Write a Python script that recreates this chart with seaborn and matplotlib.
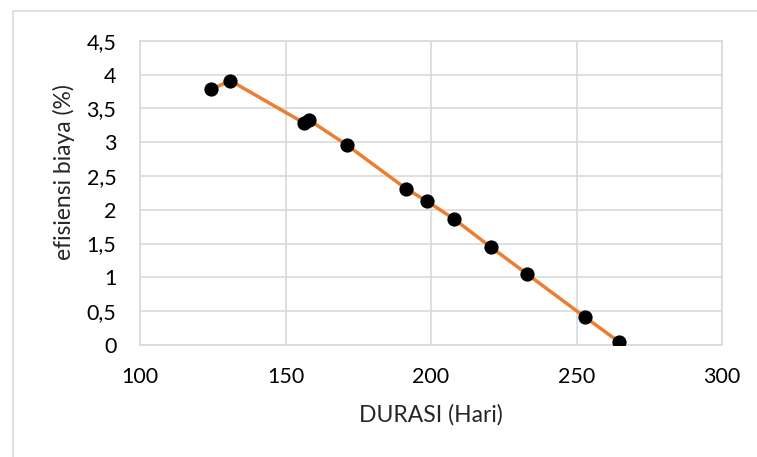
import pandas as pd
import matplotlib.pyplot as plt
import seaborn as sns
from matplotlib.patches import Rectangle
from matplotlib.ticker import FuncFormatter

# ************* DATA ************************************************
durasi = [124.5, 131, 156.5, 158, 171, 191.5, 198.5, 208, 220.5, 233, 253, 264.5]
efisiensi = [3.78, 3.91, 3.28, 3.33, 2.96, 2.31, 2.13, 1.86, 1.45, 1.05, 0.41, 0.05]
x_ticks = [100, 150, 200, 250, 300]
y_ticks = [0, 0.5, 1, 1.5, 2, 2.5, 3, 3.5, 4, 4.5]

df = pd.DataFrame({"durasi": durasi, "efisiensi": efisiensi})

# ************* PLOT *****************
sns.set_style("white")
plt.rcParams['font.family'] = ['Lato', 'DejaVu Sans']

fig = plt.figure(figsize=(7.57, 4.57), dpi=100)
ax = fig.add_axes([140 / 757, 1 - 345 / 457, 582 / 757, 304.3 / 457])

# light frame round the chart area (only top and left edges visible)
fig.patches.append(Rectangle((13 / 757, -0.2), 1.2, 1.2 - 11 / 457,
                             transform=fig.transFigure, fill=False,
                             edgecolor='#d9d9d9', linewidth=1.2))

sns.lineplot(data=df, x="durasi", y="efisiensi", ax=ax, color='#ed7d31',
             linewidth=2.5, sort=False, zorder=2)
sns.scatterplot(data=df, x="durasi", y="efisiensi", ax=ax, color='black',
                s=105, edgecolor='black', linewidth=0, zorder=3)

ax.set_xlim(100, 300)
ax.set_ylim(0, 4.5)
ax.set_xticks(x_ticks)
ax.set_yticks(y_ticks)
ax.yaxis.set_major_formatter(FuncFormatter(lambda v, p: f"{v:g}".replace('.', ',')))
ax.grid(True, color='#d9d9d9', linewidth=1.2)
ax.set_axisbelow(True)
for s in ax.spines.values():
    s.set_color('#d9d9d9')
    s.set_linewidth(1.2)
ax.tick_params(axis='both', length=0, labelsize=15.5, colors='black')
ax.tick_params(axis='x', pad=16)
ax.tick_params(axis='y', pad=17)

ax.set_xlabel('DURASI (Hari)', fontsize=16.5, labelpad=12)
ax.set_ylabel('')
fig.text(64 / 757, 1 - 172 / 457, 'efisiensi biaya (%)', rotation=90,
         fontsize=16.5, ha='center', va='center')

fig.savefig('out.png', dpi=100)
